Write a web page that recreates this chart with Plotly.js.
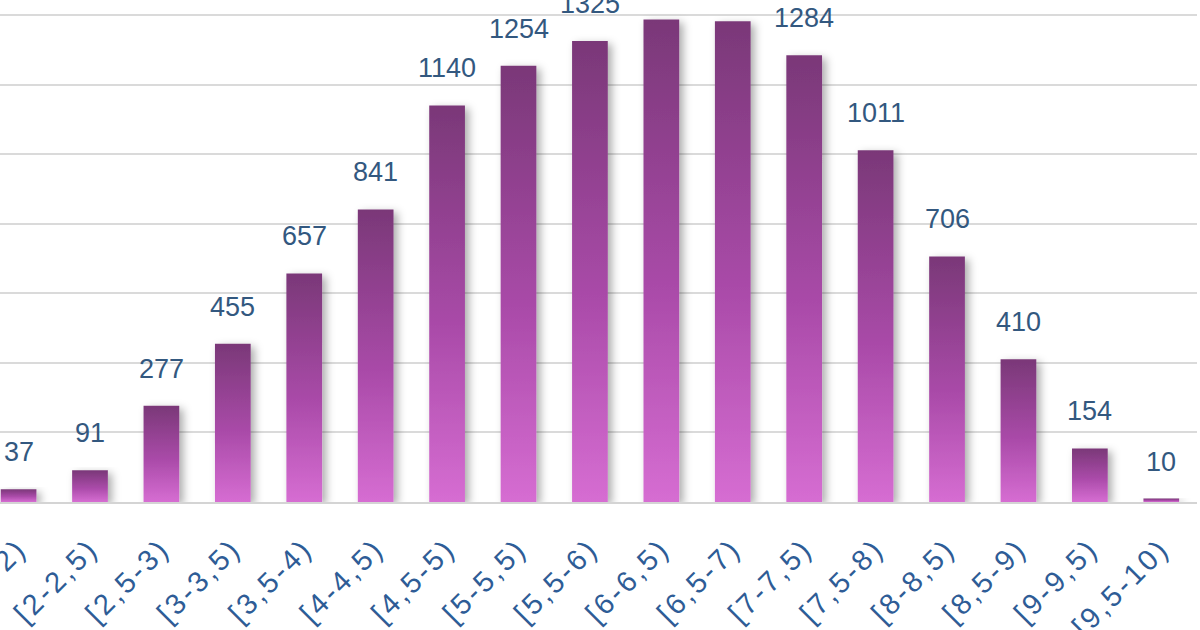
<!DOCTYPE html>
<html>
<head>
<meta charset="utf-8">
<script src="https://cdn.plot.ly/plotly-3.0.1.min.js"></script>
<style>
  html, body { margin: 0; padding: 0; background: #ffffff; }
  #chart { width: 1200px; height: 630px; }
  #chart .xtick text { letter-spacing: 3px; }
</style>
</head>
<body>
<div id="chart"></div>
<script>
const categories = ["[1,5-2)", "[2-2,5)", "[2,5-3)", "[3-3,5)", "[3,5-4)", "[4-4,5)", "[4,5-5)", "[5-5,5)", "[5,5-6)", "[6-6,5)", "[6,5-7)", "[7-7,5)", "[7,5-8)", "[8-8,5)", "[8,5-9)", "[9-9,5)", "[9,5-10)"];
const counts = [37, 91, 277, 455, 657, 841, 1140, 1254, 1325, 1387, 1382, 1284, 1011, 706, 410, 154, 10];

const labelFont = { family: "Liberation Sans, Arial, sans-serif", size: 27, color: "#33587f" };

const trace = {
  type: "bar",
  x: categories,
  y: counts,
  marker: { color: "#a04fa0", line: { width: 0 } },
  hoverinfo: "x+y"
};

const annotations = categories.map((c, i) => ({
  x: c,
  y: counts[i],
  text: String(counts[i]),
  showarrow: false,
  xanchor: "center",
  yanchor: "bottom",
  yshift: 20,
  font: labelFont
}));

const layout = {
  width: 1200,
  height: 630,
  margin: { l: 0, r: 3, t: 0, b: 128, pad: 0 },
  paper_bgcolor: "#ffffff",
  plot_bgcolor: "#ffffff",
  showlegend: false,
  bargap: 0.5,
  xaxis: {
    type: "category",
    range: [-0.26, 16.5],
    tickangle: -45,
    tickfont: { family: "Liberation Sans, Arial, sans-serif", size: 29, color: "#2e5c96" },
    ticklabelstandoff: 16,
    showgrid: false,
    showline: true,
    linecolor: "#d4d4d4",
    linewidth: 2,
    ticks: "",
    automargin: false
  },
  yaxis: {
    range: [0, 1443],
    dtick: 200,
    tick0: 0,
    showticklabels: false,
    showgrid: true,
    gridcolor: "#dadada",
    gridwidth: 2,
    zeroline: false,
    ticks: "",
    automargin: false
  },
  annotations: annotations
};

Plotly.newPlot("chart", [trace], layout, { displayModeBar: false, staticPlot: true }).then(gd => {
  const svg = gd.querySelector("svg.main-svg");
  const ns = "http://www.w3.org/2000/svg";
  let defs = svg.querySelector("defs");
  if (!defs) { defs = document.createElementNS(ns, "defs"); svg.insertBefore(defs, svg.firstChild); }
  const grad = document.createElementNS(ns, "linearGradient");
  grad.setAttribute("id", "barGrad");
  grad.setAttribute("x1", "0"); grad.setAttribute("y1", "0");
  grad.setAttribute("x2", "0"); grad.setAttribute("y2", "1");
  [["0%", "#7a3878"], ["55%", "#a94aa8"], ["100%", "#d66dd2"]].forEach(([o, c]) => {
    const s = document.createElementNS(ns, "stop");
    s.setAttribute("offset", o); s.setAttribute("stop-color", c);
    grad.appendChild(s);
  });
  defs.appendChild(grad);
  const filt = document.createElementNS(ns, "filter");
  filt.setAttribute("id", "barShadow");
  filt.setAttribute("x", "-30%"); filt.setAttribute("y", "-10%");
  filt.setAttribute("width", "170%"); filt.setAttribute("height", "130%");
  const ds = document.createElementNS(ns, "feDropShadow");
  ds.setAttribute("dx", "4"); ds.setAttribute("dy", "3");
  ds.setAttribute("stdDeviation", "4");
  ds.setAttribute("flood-color", "#000000");
  ds.setAttribute("flood-opacity", "0.33");
  filt.appendChild(ds);
  defs.appendChild(filt);
  gd.querySelectorAll(".trace.bars .point path").forEach(p => {
    p.style.fill = "url(#barGrad)";
    p.setAttribute("filter", "url(#barShadow)");
  });
});
</script>
</body>
</html>
